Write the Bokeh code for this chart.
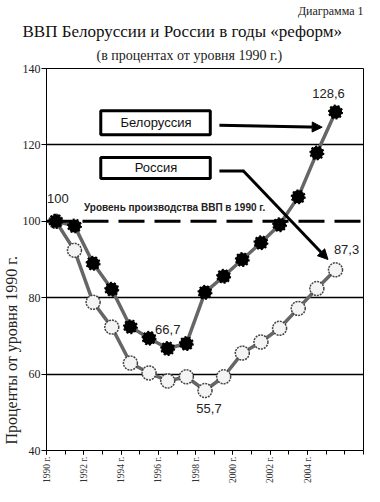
from math import pi
from bokeh.plotting import figure
from bokeh.models import (Label, Span, Arrow, NormalHead, BoxAnnotation,
                          FixedTicker, Range1d, Title)
from bokeh.embed import file_html
from bokeh.resources import INLINE

# ---- data ----
years = list(range(1990, 2006))
belarus = [100, 98.8, 89.0, 82.2, 72.4, 69.4, 66.7, 68.0, 81.4, 85.6, 90.0, 94.4, 99.1, 106.4, 117.9, 128.6]
russia = [100, 92.4, 78.8, 72.3, 62.9, 60.3, 58.2, 59.3, 55.7, 59.3, 65.5, 68.4, 72.0, 77.2, 82.4, 87.3]
y_ticks = [40, 60, 80, 100, 120, 140]
x_label_years = [1990, 1992, 1994, 1996, 1998, 2000, 2002, 2004]
baseline_level = 100

SERIF = "Liberation Serif"
SANS = "Liberation Sans"

W, H = 364, 486
X0, X1, Y0, Y1 = 1990, 2007, 40, 140

p = figure(width=W, height=H, x_range=Range1d(X0, X1), y_range=Range1d(Y0, Y1),
           min_border_left=0, min_border_right=1, min_border_top=0,
           min_border_bottom=0, toolbar_location=None, output_backend="svg",
           background_fill_color="white", border_fill_color="white", title=None)
p.outline_line_color = "black"
p.outline_line_width = 1

# approximate frame geometry in the page (for placing annotations)
PL, PT, PR, PB = 50, 72, 372, 452


def fx(X):
    return X0 + (X - PL) * (X1 - X0) / (PR - PL)


def fy(Y):
    return Y1 - (Y - PT) * (Y1 - Y0) / (PB - PT)


# reference-page coords -> our page coords (reference frame 43..373 x 72..456)
def rx(X):
    return PL + (X - 43) * (PR - PL) / (373 - 43)


def ry(Y):
    return PT + (Y - 72) * (PB - PT) / (456 - 72)


def FX(X):
    return fx(rx(X))


def FY(Y):
    return fy(ry(Y))


# titles (later-added titles sit further from the frame)
p.add_layout(Title(text="(в процентах от уровня 1990 г.)", align="left", offset=100 - PL,
                   text_font=SERIF, text_font_size="14px", text_font_style="normal",
                   text_color="#222", standoff=11), "above")
p.add_layout(Title(text="ВВП Белоруссии и России в годы «реформ»", align="left",
                   offset=26 - PL, text_font=SERIF, text_font_size="17px",
                   text_font_style="normal", text_color="#111", standoff=0), "above")
p.add_layout(Title(text="Диаграмма 1", align="right", text_font=SERIF,
                   text_font_size="12px", text_font_style="normal", text_color="#222",
                   standoff=3), "above")
p.add_layout(Title(text="Проценты от уровня 1990 г.", align="left", text_font=SERIF,
                   text_font_size="16px", text_font_style="normal", text_color="#222",
                   standoff=0, offset=6), "left")

# axes
p.yaxis.ticker = FixedTicker(ticks=y_ticks)
p.yaxis.major_tick_out = 5
p.yaxis.major_tick_in = 0
p.yaxis.minor_tick_line_color = None
p.yaxis.major_label_text_font = SERIF
p.yaxis.major_label_text_font_size = "12px"
p.yaxis.major_label_text_color = "#222"
p.yaxis.major_label_standoff = 1
p.yaxis.axis_line_color = "black"

p.xaxis.ticker = FixedTicker(ticks=x_label_years, minor_ticks=list(range(X0, X1 + 1)))
p.xaxis.major_label_overrides = {y: f"{y} г." for y in x_label_years}
p.xaxis.major_label_orientation = pi / 2
p.xaxis.major_tick_out = 4
p.xaxis.major_tick_in = 0
p.xaxis.minor_tick_out = 4
p.xaxis.minor_tick_in = 0
p.xaxis.minor_tick_line_color = "black"
p.xaxis.major_label_text_font = SERIF
p.xaxis.major_label_text_font_size = "9.5px"
p.xaxis.major_label_text_color = "#333"
p.xaxis.major_label_standoff = 2

p.xgrid.grid_line_color = None
p.ygrid.ticker = FixedTicker(ticks=[60, 80, 120])
p.ygrid.grid_line_color = "black"
p.ygrid.grid_line_width = 1.5

p.add_layout(Span(location=baseline_level, dimension="width", line_color="black",
                  line_width=3, line_dash="26 10"))

# series
xs = [y + 0.5 for y in years]
p.line(xs, russia, line_color="#666", line_width=3.5)
p.scatter(xs, russia, marker="circle", size=14, fill_color="#f4f4f4",
          line_color="#444", line_width=1.5, line_dash="2 1")
p.line(xs, belarus, line_color="#666", line_width=3.5)
p.scatter(xs, belarus, marker="circle", size=13, fill_color="black",
          line_color="black", line_width=2, line_dash="2 2")


# value labels
def val_label(x, y, txt, dx, dy):
    p.add_layout(Label(x=x, y=y, text=txt, x_offset=dx, y_offset=dy,
                       text_font=SANS, text_font_size="13px", text_color="#222",
                       text_align="center", text_baseline="middle"))


def fmt(v):
    return f"{v:.1f}".replace(".", ",") if v != int(v) else str(int(v))


val_label(xs[0], belarus[0], fmt(belarus[0]), 2, 23)
val_label(xs[-1], belarus[-1], fmt(belarus[-1]), -7, 19)
i_min_b = belarus.index(min(belarus))
val_label(xs[i_min_b], belarus[i_min_b], fmt(belarus[i_min_b]), 0, 19)
i_min_r = russia.index(min(russia))
val_label(xs[i_min_r], russia[i_min_r], fmt(russia[i_min_r]), 4, -18)
val_label(xs[-1], russia[-1], fmt(russia[-1]), 11, 20)

# baseline caption
p.add_layout(Label(x=FX(82), y=FY(212), text="Уровень производства ВВП в 1990 г.",
                   text_font=SANS, text_font_size="10px", text_font_style="bold",
                   text_color="#222", text_align="left", text_baseline="middle"))

# legend boxes
for (top, bot, name) in [(113, 140, "Белоруссия"), (160, 184, "Россия")]:
    p.add_layout(BoxAnnotation(left=FX(99.5), right=FX(213.5), top=FY(top + 1.5),
                               bottom=FY(bot - 1.5), fill_color="white", fill_alpha=1,
                               line_color="black", line_width=3, line_alpha=1))
    p.add_layout(Label(x=FX(157), y=FY((top + bot) / 2), text=name, text_font=SANS,
                       text_font_size="13px", text_color="#111", text_align="center",
                       text_baseline="middle"))

# arrows
head = dict(size=10, fill_color="black", line_color="black")
p.add_layout(Arrow(x_start=FX(223), y_start=FY(129), x_end=FX(330), y_end=FY(131),
                   line_width=3, line_color="black", end=NormalHead(**head)))
p.add_layout(Arrow(x_start=FX(223), y_start=FY(175), x_end=FX(249), y_end=FY(175),
                   line_width=3, line_color="black", end=None))
p.add_layout(Arrow(x_start=FX(248), y_start=FY(175), x_end=FX(336), y_end=FY(264),
                   line_width=3, line_color="black", end=NormalHead(**head)))

open("out.html", "w").write(file_html(p, INLINE))
